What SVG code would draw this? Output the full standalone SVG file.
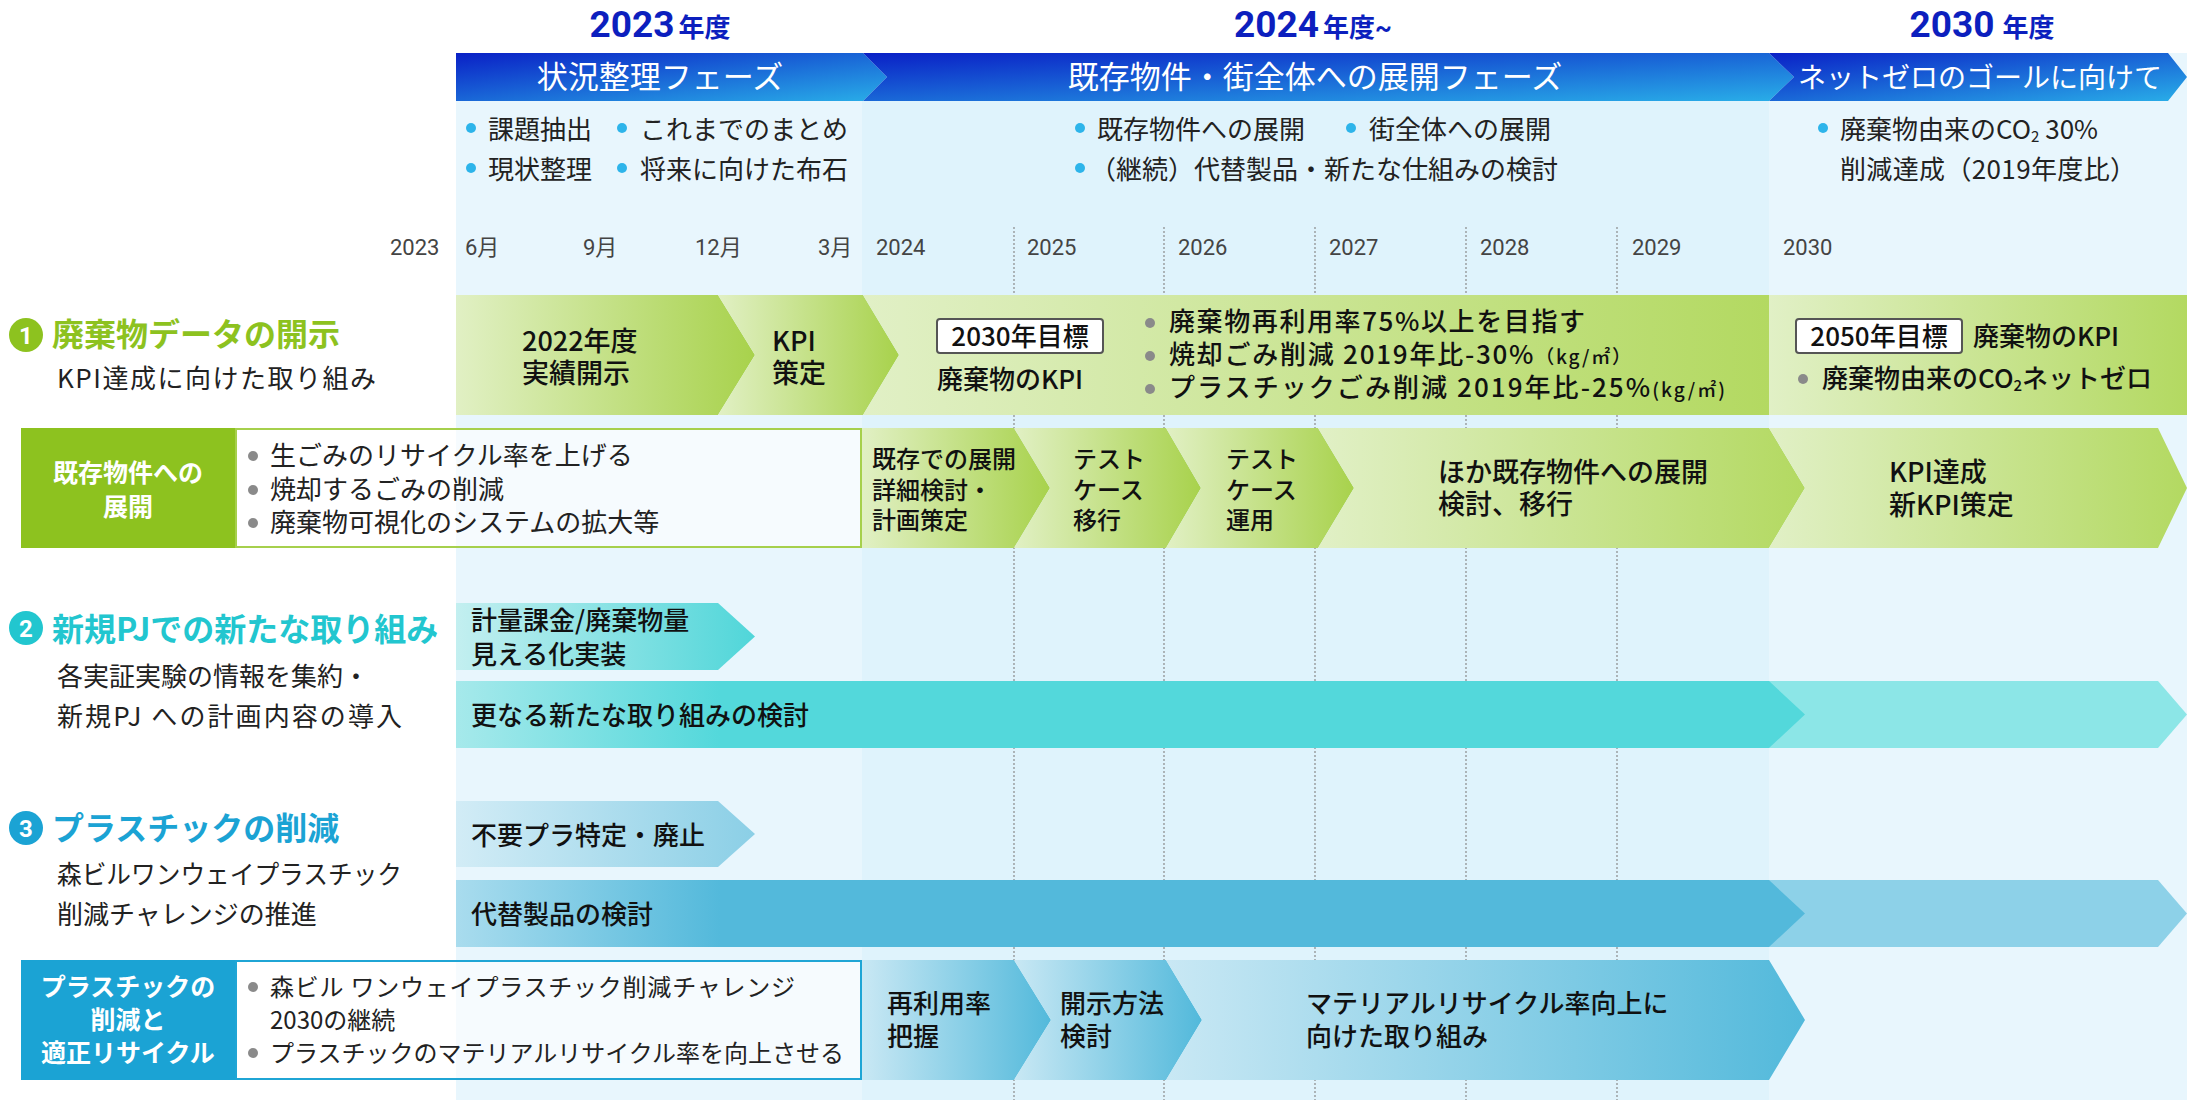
<svg xmlns="http://www.w3.org/2000/svg" width="2187" height="1100" viewBox="0 0 2187 1100">
<defs>
<linearGradient id="gP" x1="0" y1="0" x2="1" y2="1"><stop offset="0" stop-color="#0a20c6"/><stop offset="1" stop-color="#29aee8"/></linearGradient>
<linearGradient id="gG" x1="0" y1="0" x2="1" y2="0"><stop offset="0" stop-color="#e1f0c4"/><stop offset="1" stop-color="#a8d24c"/></linearGradient>
<linearGradient id="gGL" x1="0" y1="0" x2="1" y2="0"><stop offset="0" stop-color="#e1f0c6"/><stop offset="1" stop-color="#b3d961"/></linearGradient>
<linearGradient id="gT" x1="0" y1="0" x2="1" y2="0"><stop offset="0" stop-color="#c3eff0"/><stop offset="1" stop-color="#50d6d9"/></linearGradient>
<linearGradient id="gTL" gradientUnits="userSpaceOnUse" x1="456" y1="0" x2="720" y2="0"><stop offset="0" stop-color="#a6e9eb"/><stop offset="1" stop-color="#53d8db"/></linearGradient>
<linearGradient id="gBP" x1="0" y1="0" x2="1" y2="0"><stop offset="0" stop-color="#d2ecf6"/><stop offset="1" stop-color="#8bcfe6"/></linearGradient>
<linearGradient id="gBL" gradientUnits="userSpaceOnUse" x1="456" y1="0" x2="720" y2="0"><stop offset="0" stop-color="#a9dcee"/><stop offset="1" stop-color="#53b9db"/></linearGradient>
<linearGradient id="gB" x1="0" y1="0" x2="1" y2="0"><stop offset="0" stop-color="#c9e8f4"/><stop offset="1" stop-color="#52b9db"/></linearGradient>
<style>
text{font-family:"Noto Sans CJK JP","Noto Sans",sans-serif;fill:#222;}
.hd{font-family:Roboto,"Noto Sans CJK JP",sans-serif;font-weight:700;fill:#0c1fbe;}
.ph{fill:#fff;font-size:31px;text-anchor:middle;}
.bl{font-size:26px;}
.ax{font-family:Roboto,"Noto Sans CJK JP",sans-serif;font-size:22px;fill:#444;}
.br{font-size:26px;fill:#111;font-weight:500;}
.br3{font-size:24px;fill:#111;font-weight:500;}
.sec{font-size:32px;font-weight:700;}
.sub{font-size:26px;fill:#222;}
.lb{font-size:25px;font-weight:700;fill:#fff;text-anchor:middle;}
.num{font-size:24px;font-weight:700;fill:#fff;text-anchor:middle;font-family:Roboto,sans-serif;}
.dot{fill:#2db4ea;}
.gd{fill:#8a8a8a;}
.grid{stroke:#8a8a8a;stroke-width:1.2;stroke-dasharray:2 2;}
.kbox{fill:#fff;stroke:#555;stroke-width:2;}
</style>
</defs>

<g id="background">
<rect x="0" y="0" width="2187" height="1100" fill="#fff"/>
<rect x="456" y="53" width="406" height="1047" fill="#e8f6fd"/>
<rect x="862" y="53" width="907" height="1047" fill="#dff3fc"/>
<rect x="1769" y="53" width="418" height="1047" fill="#e8f6fd"/>
</g>

<g id="grid">
<line class="grid" x1="1014" y1="227" x2="1014" y2="1100"/>
<line class="grid" x1="1164" y1="227" x2="1164" y2="1100"/>
<line class="grid" x1="1315" y1="227" x2="1315" y2="1100"/>
<line class="grid" x1="1466" y1="227" x2="1466" y2="1100"/>
<line class="grid" x1="1617" y1="227" x2="1617" y2="1100"/>
</g>

<g id="year-headings">
<text class="hd" x="660" y="37" text-anchor="middle"><tspan font-size="37">2023</tspan><tspan font-size="26" dx="4">年度</tspan></text>
<text class="hd" x="1313" y="37" text-anchor="middle"><tspan font-size="37">2024</tspan><tspan font-size="26" dx="4">年度~</tspan></text>
<text class="hd" x="1982" y="37" text-anchor="middle"><tspan font-size="37">2030</tspan><tspan font-size="26" dx="8">年度</tspan></text>
</g>

<g id="phase1">
<polygon points="456,53 863,53 887,77 863,101 456,101" fill="url(#gP)"/>
<text class="ph" x="660" y="88">状況整理フェーズ</text>
<circle class="dot" cx="471" cy="128" r="5"/><text class="bl" x="488" y="139">課題抽出</text>
<circle class="dot" cx="622" cy="128" r="5"/><text class="bl" x="640" y="139">これまでのまとめ</text>
<circle class="dot" cx="471" cy="168" r="5"/><text class="bl" x="488" y="179">現状整理</text>
<circle class="dot" cx="622" cy="168" r="5"/><text class="bl" x="640" y="179">将来に向けた布石</text>
</g>

<g id="phase2">
<polygon points="863,53 1769,53 1794,77 1769,101 863,101 887,77" fill="url(#gP)"/>
<text class="ph" x="1315" y="88">既存物件・街全体への展開フェーズ</text>
<circle class="dot" cx="1080" cy="128" r="5"/><text class="bl" x="1097" y="139">既存物件への展開</text>
<circle class="dot" cx="1351" cy="128" r="5"/><text class="bl" x="1369" y="139">街全体への展開</text>
<circle class="dot" cx="1080" cy="168" r="5"/><text class="bl" x="1090" y="179">（継続）代替製品・新たな仕組みの検討</text>
</g>

<g id="phase3">
<polygon points="1769,53 2168,53 2187,77 2168,101 1769,101 1794,77" fill="url(#gP)"/>
<text class="ph" x="1980" y="88" style="font-size:28px">ネットゼロのゴールに向けて</text>
<circle class="dot" cx="1823" cy="128" r="5"/><text class="bl" x="1840" y="139">廃棄物由来のCO<tspan font-size="15" dy="3">2</tspan><tspan dy="-3"> 30%</tspan></text>
<text class="bl" x="1840" y="179" textLength="296" lengthAdjust="spacing">削減達成（2019年度比）</text>
</g>

<g id="axis">
<text class="ax" x="390" y="255">2023</text>
<text class="ax" x="465" y="255">6月</text>
<text class="ax" x="583" y="255">9月</text>
<text class="ax" x="695" y="255">12月</text>
<text class="ax" x="818" y="255">3月</text>
<text class="ax" x="876" y="255">2024</text>
<text class="ax" x="1027" y="255">2025</text>
<text class="ax" x="1178" y="255">2026</text>
<text class="ax" x="1329" y="255">2027</text>
<text class="ax" x="1480" y="255">2028</text>
<text class="ax" x="1632" y="255">2029</text>
<text class="ax" x="1783" y="255">2030</text>
</g>

<g id="section1">
<circle cx="26" cy="335" r="17" fill="#8dc21f"/><text class="num" x="26" y="344">1</text>
<text class="sec" x="52" y="346" style="fill:#8dc21f">廃棄物データの開示</text>
<text class="sub" x="57" y="388" textLength="319" lengthAdjust="spacing">KPI達成に向けた取り組み</text>
</g>

<g id="row1-bars">
<polygon points="456,295 718,295 755,355 718,415 456,415" fill="url(#gG)"/>
<text class="br" x="522" y="351" style="font-size:27px">2022年度</text>
<text class="br" x="522" y="383" style="font-size:27px">実績開示</text>
<polygon points="718,295 863,295 899,355 863,415 718,415 755,355" fill="url(#gG)"/>
<text class="br" x="772" y="351" style="font-size:27px">KPI</text>
<text class="br" x="772" y="383" style="font-size:27px">策定</text>
<polygon points="863,295 1769,295 1769,415 863,415 899,355" fill="url(#gGL)"/>
<rect class="kbox" x="937" y="319" width="166" height="34" rx="3"/>
<text class="br" x="1020" y="346" text-anchor="middle">2030年目標</text>
<text class="br" x="937" y="389">廃棄物のKPI</text>
<circle class="gd" cx="1150" cy="323" r="5"/><text class="br" x="1169" y="331" textLength="416" lengthAdjust="spacing">廃棄物再利用率75%以上を目指す</text>
<circle class="gd" cx="1150" cy="356" r="5"/><text class="br" x="1169" y="364" textLength="462" lengthAdjust="spacing">焼却ごみ削減 2019年比-30%<tspan font-size="19">（kg/㎡）</tspan></text>
<circle class="gd" cx="1150" cy="389" r="5"/><text class="br" x="1169" y="397" textLength="556" lengthAdjust="spacing">プラスチックごみ削減 2019年比-25%<tspan font-size="19">(kg/㎡)</tspan></text>
<polygon points="1769,295 2187,295 2187,415 1769,415" fill="url(#gGL)"/>
<rect class="kbox" x="1796" y="319" width="166" height="34" rx="3"/>
<text class="br" x="1879" y="346" text-anchor="middle">2050年目標</text>
<text class="br" x="1973" y="346">廃棄物のKPI</text>
<circle class="gd" cx="1803" cy="379" r="5"/><text class="br" x="1822" y="388">廃棄物由来のCO<tspan font-size="15" dy="3">2</tspan><tspan dy="-3">ネットゼロ</tspan></text>
</g>

<g id="row2-label">
<rect x="21" y="428" width="214" height="120" fill="#8dc21f"/>
<text class="lb" x="128" y="482">既存物件への</text>
<text class="lb" x="128" y="516">展開</text>
<rect x="236" y="429" width="625" height="118" fill="#fff" fill-opacity="0.6" stroke="#a6d04c" stroke-width="2"/>
<circle class="gd" cx="253" cy="456" r="5"/><text class="bl" x="270" y="465">生ごみのリサイクル率を上げる</text>
<circle class="gd" cx="253" cy="490" r="5"/><text class="bl" x="270" y="499">焼却するごみの削減</text>
<circle class="gd" cx="253" cy="523" r="5"/><text class="bl" x="270" y="532">廃棄物可視化のシステムの拡大等</text>
</g>

<g id="row2-bars">
<polygon points="862,428 1014,428 1050,488 1014,548 862,548" fill="url(#gG)"/>
<text class="br3" x="872" y="468">既存での展開</text>
<text class="br3" x="872" y="499">詳細検討・</text>
<text class="br3" x="872" y="529">計画策定</text>
<polygon points="1014,428 1166,428 1201,488 1166,548 1014,548 1050,488" fill="url(#gG)"/>
<text class="br3" x="1073" y="468">テスト</text>
<text class="br3" x="1073" y="499">ケース</text>
<text class="br3" x="1073" y="529">移行</text>
<polygon points="1166,428 1318,428 1354,488 1318,548 1166,548 1201,488" fill="url(#gG)"/>
<text class="br3" x="1226" y="468">テスト</text>
<text class="br3" x="1226" y="499">ケース</text>
<text class="br3" x="1226" y="529">運用</text>
<polygon points="1318,428 1769,428 1805,488 1769,548 1318,548 1354,488" fill="url(#gGL)"/>
<text class="br" x="1438" y="482" style="font-size:27px">ほか既存物件への展開</text>
<text class="br" x="1438" y="514" style="font-size:27px">検討、移行</text>
<polygon points="1769,428 2158,428 2187,488 2158,548 1769,548 1805,488" fill="url(#gGL)"/>
<text class="br" x="1889" y="482" style="font-size:27px">KPI達成</text>
<text class="br" x="1889" y="515" style="font-size:27px">新KPI策定</text>
</g>

<g id="section2">
<circle cx="26" cy="628" r="17" fill="#22c6cf"/><text class="num" x="26" y="637">2</text>
<text class="sec" x="52" y="641" style="fill:#22c6cf">新規PJでの新たな取り組み</text>
<text class="sub" x="57" y="686">各実証実験の情報を集約・</text>
<text class="sub" x="57" y="726" textLength="345" lengthAdjust="spacing">新規PJ への計画内容の導入</text>
</g>

<g id="row3-bars">
<polygon points="456,603 718,603 755,636.5 718,670 456,670" fill="url(#gT)"/>
<text class="br" x="471" y="630">計量課金/廃棄物量</text>
<text class="br" x="471" y="664">見える化実装</text>
<polygon points="1769,681 2158,681 2187,714.5 2158,748 1769,748" fill="#8ce6e7"/>
<polygon points="456,681 1769,681 1805,714.5 1769,748 456,748" fill="url(#gTL)"/>
<text class="br" x="471" y="725">更なる新たな取り組みの検討</text>
</g>

<g id="section3">
<circle cx="26" cy="828" r="17" fill="#1ba3d4"/><text class="num" x="26" y="837">3</text>
<text class="sec" x="52" y="840" style="fill:#1ba3d4">プラスチックの削減</text>
<text class="sub" x="57" y="884" textLength="345" lengthAdjust="spacingAndGlyphs">森ビルワンウェイプラスチック</text>
<text class="sub" x="57" y="924">削減チャレンジの推進</text>
</g>

<g id="row4-bars">
<polygon points="456,801 718,801 755,834 718,867 456,867" fill="url(#gBP)"/>
<text class="br" x="471" y="845">不要プラ特定・廃止</text>
<polygon points="1769,880 2158,880 2187,913.5 2158,947 1769,947" fill="#8dd1e8"/>
<polygon points="456,880 1769,880 1805,913.5 1769,947 456,947" fill="url(#gBL)"/>
<text class="br" x="471" y="924">代替製品の検討</text>
</g>

<g id="row5-label">
<rect x="21" y="960" width="214" height="120" fill="#1ba3d4"/>
<text class="lb" x="128" y="996">プラスチックの</text>
<text class="lb" x="128" y="1029">削減と</text>
<text class="lb" x="128" y="1062">適正リサイクル</text>
<rect x="236" y="961" width="625" height="118" fill="#fff" fill-opacity="0.6" stroke="#1fa5d5" stroke-width="2"/>
<circle class="gd" cx="253" cy="987" r="5"/><text class="bl" x="270" y="996" style="font-size:24px" textLength="525" lengthAdjust="spacing">森ビル ワンウェイプラスチック削減チャレンジ</text>
<text class="bl" x="270" y="1029" style="font-size:24px">2030の継続</text>
<circle class="gd" cx="253" cy="1053" r="5"/><text class="bl" x="270" y="1062" style="font-size:24px">プラスチックのマテリアルリサイクル率を向上させる</text>
</g>

<g id="row5-bars">
<polygon points="862,960 1014,960 1051,1020 1014,1080 862,1080" fill="url(#gB)"/>
<text class="br" x="887" y="1013">再利用率</text>
<text class="br" x="887" y="1046">把握</text>
<polygon points="1014,960 1166,960 1202,1020 1166,1080 1014,1080 1051,1020" fill="url(#gB)"/>
<text class="br" x="1060" y="1013">開示方法</text>
<text class="br" x="1060" y="1046">検討</text>
<polygon points="1166,960 1769,960 1805,1020 1769,1080 1166,1080 1202,1020" fill="url(#gB)"/>
<text class="br" x="1306" y="1013">マテリアルリサイクル率向上に</text>
<text class="br" x="1306" y="1046">向けた取り組み</text>
</g>
</svg>
